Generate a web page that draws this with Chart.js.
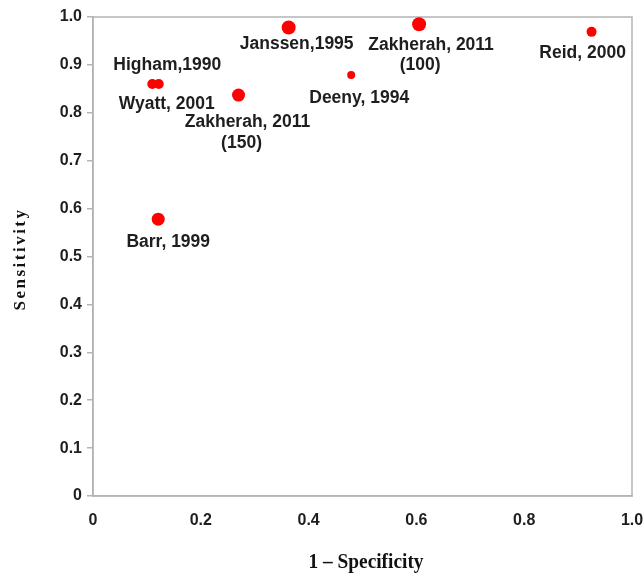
<!DOCTYPE html>
<html>
<head>
<meta charset="utf-8">
<script src="https://cdn.jsdelivr.net/npm/chart.js@4"></script>
<style>
  body { margin:0; background:#fff; }
  #wrap { position:relative; width:644px; height:573px; }
</style>
</head>
<body>
<div id="wrap"><canvas id="c" width="644" height="573"></canvas></div>
<script>
// studies, 1 - specificity, sensitivity
const studyLabels = ['Higham,1990', 'Wyatt, 2001', 'Janssen,1995', 'Zakherah, 2011\n(150)', 'Barr, 1999', 'Deeny, 1994', 'Zakherah, 2011\n(100)', 'Reid, 2000']
const fpr = [0.110, 0.122, 0.363, 0.270, 0.121, 0.479, 0.605, 0.925]
const sens = [0.860, 0.860, 0.978, 0.837, 0.578, 0.879, 0.985, 0.969]

const xTickLabels = ['0', '0.2', '0.4', '0.6', '0.8', '1.0']
const yTickLabels = ['0', '0.1', '0.2', '0.3', '0.4', '0.5', '0.6', '0.7', '0.8', '0.9', '1.0']
const xTitle = '1 \u2013 Specificity'
const yTitle = 'Sensitivity'

// marker size (study weight) and where each label sits relative to its dot
const dotRadius = [5, 5, 7, 6.5, 6.5, 4, 7, 5]
const labelOfs = [
	[[15, -19]],
	[[8, 20]],
	[[8, 17]],
	[[9, 27], [3, 48]],
	[[10, 23]],
	[[8, 23]],
	[[12, 21], [1, 41]],
	[[-9, 21]],
]

const grey = '#b4b4b4'
const ink = '#1e1e1e'

const boxPlugin = {
	id: 'box',
	beforeDatasetsDraw(chart) {
		const {ctx, chartArea: a} = chart
		ctx.save()
		ctx.strokeStyle = grey
		ctx.lineWidth = 1.5
		ctx.strokeRect(a.left, a.top, a.right - a.left, a.bottom - a.top)
		ctx.restore()
	}
}

const labelPlugin = {
	id: 'studyLabels',
	afterDatasetsDraw(chart) {
		const ctx = chart.ctx
		const pts = chart.getDatasetMeta(0).data
		ctx.save()
		ctx.fillStyle = ink
		ctx.font = 'bold 17.5px "Liberation Sans", Arial, sans-serif'
		ctx.textAlign = 'center'
		ctx.textBaseline = 'middle'
		pts.forEach((p, i) => {
			studyLabels[i].split('\n').forEach((line, j) => {
				const o = labelOfs[i][j]
				ctx.fillText(line, p.x + o[0], p.y + o[1])
			})
		})

		// axis titles
		ctx.fillStyle = '#111'
		ctx.font = 'bold 22px "Liberation Serif", "Times New Roman", serif'
		ctx.save()
		ctx.translate(366, 562)
		ctx.scale(0.88, 1)
		ctx.fillText(xTitle, 0, 0)
		ctx.restore()

		ctx.save()
		ctx.translate(21, 259)
		ctx.rotate(-Math.PI / 2)
		ctx.font = 'bold 17px "Liberation Serif", "Times New Roman", serif'
		ctx.letterSpacing = '2.5px'
		ctx.fillText(yTitle, 0, 0)
		ctx.restore()
		ctx.restore()
	}
}

new Chart(document.getElementById('c'), {
	type: 'scatter',
	data: {
		datasets: [{
			data: fpr.map((v, i) => ({x: v, y: sens[i]})),
			backgroundColor: '#ff0000',
			borderColor: '#ff0000',
			borderWidth: 0,
			pointRadius: dotRadius,
			pointHoverRadius: dotRadius,
		}]
	},
	options: {
		responsive: false,
		animation: false,
		layout: { padding: {top: 17, right: 12, left: 0, bottom: 0} },
		plugins: {
			legend: { display: false },
			tooltip: { enabled: false },
		},
		scales: {
			x: {
				type: 'linear', min: 0, max: 1,
				afterFit: s => { s.height = 77; s.paddingRight = 0; s.paddingLeft = 0 },
				grid: { display: false },
				border: { display: true, color: grey, width: 1.5 },
				ticks: {
					stepSize: 0.2,
					padding: 7,
					color: ink,
					font: { family: '"Liberation Sans", Arial, sans-serif', size: 16, weight: 'bold' },
					callback: v => xTickLabels[Math.round(v * 5)],
				}
			},
			y: {
				type: 'linear', min: 0, max: 1,
				afterFit: s => { s.width = 93; s.paddingTop = 0; s.paddingBottom = 0 },
				grid: { drawOnChartArea: false, tickLength: 6, color: grey, lineWidth: 1.5 },
				border: { display: true, color: grey, width: 1.5 },
				ticks: {
					stepSize: 0.1,
					padding: 5,
					color: ink,
					font: { family: '"Liberation Sans", Arial, sans-serif', size: 16, weight: 'bold' },
					callback: v => yTickLabels[Math.round(v * 10)],
				}
			}
		}
	},
	plugins: [boxPlugin, labelPlugin]
})
</script>
</body>
</html>
